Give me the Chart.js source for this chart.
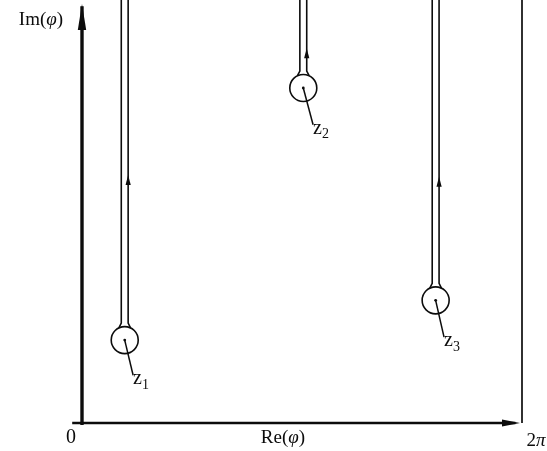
<!DOCTYPE html>
<html>
<head>
<meta charset="utf-8">
<script src="https://cdn.jsdelivr.net/npm/chart.js@4"></script>
<style>
html,body{margin:0;padding:0;background:#fff;}
#c{display:block;}
</style>
</head>
<body>
<canvas id="c" width="547" height="451"></canvas>
<script>
// ---- data ----
const poleNames = ['z', 'z', 'z'];
const poleSubs = ['1', '2', '3'];
const poleRe = [0.61, 3.16, 5.05];      // Re(phi)
const poleIm = [1.96, 7.92, 2.90];      // Im(phi)
const arrowIm = [5.72, 8.72, 5.68];     // where the small arrow sits on each cut
const leaderRe = [0.73, 3.30, 5.17];    // end of the pointer line to the label
const leaderIm = [1.13, 7.05, 2.03];
const reMax = 2 * Math.PI;
const imMax = 10;
const axisLabels = ['Re(\u03C6)', 'Im(\u03C6)'];
const tickLabels = ['0', '2\u03C0'];

const INK = '#0c0c0c';
const halfGap = 0.049;   // half width of the double line (Re units)

const datasets = [];
// y axis (thick) and x axis
datasets.push({type:'line', data:[{x:0,y:-0.05},{x:0,y:imMax*0.985}], borderColor:INK, borderWidth:3.4, pointRadius:0, clip:false});
datasets.push({type:'line', data:[{x:-0.14,y:0},{x:reMax*0.985,y:0}], borderColor:INK, borderWidth:2.6, pointRadius:0, clip:false});
// right boundary Re = 2pi
datasets.push({type:'line', data:[{x:reMax,y:0},{x:reMax,y:imMax}], borderColor:INK, borderWidth:1.7, pointRadius:0, clip:false});
// cuts (double lines) and circles
poleRe.forEach((re, i) => {
  const im = poleIm[i];
  [-1, 1].forEach(s => {
    datasets.push({type:'line', data:[
      {x:re + s*halfGap*1.7, y:im + 0.29},
      {x:re + s*halfGap, y:im + 0.40},
      {x:re + s*halfGap, y:imMax}], borderColor:INK, borderWidth:1.6, pointRadius:0, clip:false, tension:0});
  });
  datasets.push({type:'scatter', data:[{x:re, y:im}], pointRadius:13.5, pointBorderWidth:1.6, borderColor:INK, pointBackgroundColor:'rgba(0,0,0,0)', pointHoverRadius:13.5});
  datasets.push({type:'scatter', data:[{x:re, y:im}], pointRadius:1.4, borderWidth:0, pointBackgroundColor:INK});
  datasets.push({type:'line', data:[{x:re, y:im},{x:leaderRe[i], y:leaderIm[i]}], borderColor:INK, borderWidth:1.5, pointRadius:0, clip:false});
});

const decor = {
  id:'decor',
  afterDatasetsDraw(chart) {
    const ctx = chart.ctx, xs = chart.scales.x, ys = chart.scales.y;
    const px = v => xs.getPixelForValue(v), py = v => ys.getPixelForValue(v);
    ctx.save();
    ctx.fillStyle = INK;
    // y axis arrowhead
    let x0 = px(0), yt = py(imMax) + 4;
    ctx.beginPath(); ctx.moveTo(x0, yt); ctx.lineTo(x0 - 4.2, yt + 26); ctx.lineTo(x0 + 4.2, yt + 26); ctx.closePath(); ctx.fill();
    // x axis arrowhead
    let xr = px(reMax) - 2, y0 = py(0);
    ctx.beginPath(); ctx.moveTo(xr, y0); ctx.lineTo(xr - 18, y0 - 3.4); ctx.lineTo(xr - 18, y0 + 3.4); ctx.closePath(); ctx.fill();
    // small arrows on the right line of each cut
    poleRe.forEach((re, i) => {
      const ax = px(re + halfGap), ay = py(arrowIm[i]);
      ctx.beginPath(); ctx.moveTo(ax, ay - 6); ctx.lineTo(ax - 2.6, ay + 4); ctx.lineTo(ax + 2.6, ay + 4); ctx.closePath(); ctx.fill();
    });
    // labels
    ctx.textBaseline = 'middle';
    ctx.textAlign = 'left';
    poleRe.forEach((re, i) => {
      const lx = px(leaderRe[i]), ly = py(leaderIm[i]);
      ctx.font = '20px "Liberation Serif"';
      ctx.fillText(poleNames[i], lx, ly + 4);
      const w = ctx.measureText(poleNames[i]).width;
      ctx.font = '14px "Liberation Serif"';
      ctx.fillText(poleSubs[i], lx + w, ly + 10);
    });
    function mixed(parts, cx, cy, size) {
      let total = 0;
      parts.forEach(p => { ctx.font = (p[1] ? 'italic ' : '') + size + 'px "Liberation Serif"'; total += ctx.measureText(p[0]).width; });
      let x = cx - total / 2;
      parts.forEach(p => { ctx.font = (p[1] ? 'italic ' : '') + size + 'px "Liberation Serif"'; ctx.fillText(p[0], x, cy); x += ctx.measureText(p[0]).width; });
    }
    const re = axisLabels[0], im = axisLabels[1];
    mixed([[re.slice(0,3), false],[re.slice(3,4), true],[re.slice(4), false]], (px(0)+px(reMax))/2 - 19, py(0) + 15, 19);
    mixed([[im.slice(0,3), false],[im.slice(3,4), true],[im.slice(4), false]], px(0) - 41, py(imMax) + 20, 19);
    ctx.textAlign = 'center';
    ctx.font = '20px "Liberation Serif"';
    ctx.fillText(tickLabels[0], px(0) - 11, py(0) + 15);
    ctx.textAlign = 'left';
    mixed([[tickLabels[1].slice(0,1), false],[tickLabels[1].slice(1), true]], px(reMax) + 14, py(0) + 18, 19);
    ctx.restore();
  }
};

new Chart(document.getElementById('c'), {
  type:'scatter',
  data:{datasets},
  options:{
    responsive:false, animation:false, devicePixelRatio:1,
    layout:{autoPadding:false, padding:{left:82, right:25, top:0, bottom:28}},
    plugins:{legend:{display:false}, tooltip:{enabled:false}},
    events:[],
    scales:{
      x:{type:'linear', min:0, max:reMax, display:false},
      y:{type:'linear', min:0, max:imMax, display:false}
    }
  },
  plugins:[decor]
});
</script>
</body>
</html>
